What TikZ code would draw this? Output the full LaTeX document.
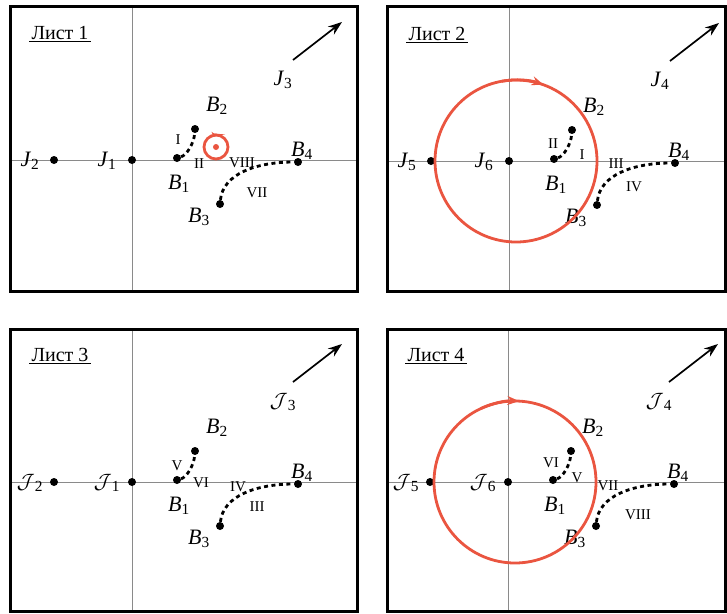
\documentclass[tikz,border=0pt]{standalone}
\usepackage{fontspec}
\setmainfont{Liberation Serif}
\usetikzlibrary{arrows.meta}
\definecolor{LoopRed}{HTML}{EA5540}
\definecolor{AxisGray}{HTML}{8A8A8A}
\tikzset{
  % Panel frame and axes
  FR/.style={draw,line width=3pt},
  AX/.style={draw=AxisGray,line width=0.8pt},
  % Points
  PT/.style={circle,fill,inner sep=0pt,minimum size=8pt},
  % Label styles
  LB/.style={inner sep=1pt,font=\fontsize{22}{22}\selectfont},
  RN/.style={inner sep=1pt,font=\fontsize{15}{15}\selectfont\upshape},
  TT/.style={inner sep=2pt,font=\fontsize{20}{20}\selectfont\upshape},
  % Lines
  dotc/.style={line width=2.8pt,dash pattern=on 4pt off 3.5pt},
  arr/.style={-{Stealth[length=14pt,width=10pt]},line width=1.7pt},
  loop/.style={draw=LoopRed,line width=2.8pt}
}
\newcommand{\lb}[2]{\textit{#1}\textsubscript{#2}}
\newcommand{\lc}[1]{$\mathcal{J}$\textsubscript{#1}}

\begin{document}
\begin{tikzpicture}[x=1pt,y=-1pt]
  \useasboundingbox (0,0) rectangle (727,613);
  % common part of the four sheets
  \foreach \p/\fx/\fy/\fr/\fb/\ox/\oy/\jl/\jm/\jr in
    {1/10/6/357/291/132/160/{\lb{J}{2}}/{\lb{J}{1}}/{\lb{J}{3}},
     2/387/6/725/291/509/161/{\lb{J}{5}}/{\lb{J}{6}}/{\lb{J}{4}},
     3/10/329/357/611/132/482/{\lc{2}}/{\lc{1}}/{\lc{3}},
     4/387/329/725/611/508/482/{\lc{5}}/{\lc{6}}/{\lc{4}}}{
    \draw[AX] (\ox,\fy) -- (\ox,\fb);
    \draw[AX] (\fx,\oy) -- (\fr,\oy);
    \draw[FR] (\fx,\fy) rectangle (\fr,\fb);
    \begin{scope}[shift={(\ox,\oy)}]
      \node[TT] (lst\p) at (-72,-127) {Лист \p};
      \draw[line width=0.9pt] (lst\p.south west) -- (lst\p.south east);
      \node[PT] (jl\p) at (-78,0) {};
      \node[PT] (jm\p) at (0,0) {};
      \node[PT] (b1\p) at (45,-2) {};
      \node[PT] (b2\p) at (63,-31) {};
      \node[PT] (b3\p) at (88,44) {};
      \node[PT] (b4\p) at (166,2) {};
      \node[LB] (tjl\p) at (-102,1) {\jl};
      \node[LB] (tjm\p) at (-25,1) {\jm};
      \node[LB] (tjr\p) at (151,-80) {\jr};
      \node[LB] (tb1\p) at (47,24) {\lb{B}{1}};
      \node[LB] (tb2\p) at (85,-54) {\lb{B}{2}};
      \node[LB] (tb3\p) at (67,57) {\lb{B}{3}};
      \node[LB] (tb4\p) at (170,-9) {\lb{B}{4}};
      \coordinate (as\p) at (161,-100);
      \coordinate (ae\p) at (210,-138);
      \draw[arr] (as\p) -- (ae\p);
      \draw[dotc] (b1\p) .. controls +(10,-3) and +(-1,14) .. (b2\p);
      \draw[dotc] (b3\p) .. controls +(3,-30) and +(-42,0) .. (b4\p);
    \end{scope}
  }
  % Sheet 1
  \begin{scope}[shift={(132,160)}]
    \node[RN] (r1a) at (46,-20) {I};
    \node[RN] (r1b) at (67,4) {II};
    \node[RN] (r1c) at (110,3) {VIII};
    \node[RN] (r1d) at (125,33) {VII};
    \draw[loop] (84,-13) circle (12pt);
    \fill[LoopRed] (84,-13) circle (3pt);
    \draw[loop,-{Stealth[length=5pt,width=6pt]}] (84,-13) ++(100:12pt) arc[start angle=100,end angle=88,radius=12pt];
  \end{scope}
  % Sheet 2
  \begin{scope}[shift={(509,161)}]
    \node[RN] (r2a) at (44,-17) {II};
    \node[RN] (r2b) at (73,-6) {I};
    \node[RN] (r2c) at (107,3) {III};
    \node[RN] (r2d) at (125,26) {IV};
    \draw[loop] (7,0) circle (81pt);
    \draw[loop,-{Stealth[length=12pt,width=9pt]}] (7,0) ++(100:81pt) arc[start angle=100,end angle=70,radius=81pt];
  \end{scope}
  % Sheet 3
  \begin{scope}[shift={(132,482)}]
    \node[RN] (r3a) at (45,-16) {V};
    \node[RN] (r3b) at (69,1) {VI};
    \node[RN] (r3c) at (106,5) {IV};
    \node[RN] (r3d) at (125,25) {III};
  \end{scope}
  % Sheet 4
  \begin{scope}[shift={(508,482)}]
    \node[RN] (r4a) at (43,-19) {VI};
    \node[RN] (r4b) at (69,-4) {V};
    \node[RN] (r4c) at (100,4) {VII};
    \node[RN] (r4d) at (130,33) {VIII};
    \draw[loop] (7,0) circle (81pt);
    \draw[loop,-{Stealth[length=12pt,width=9pt]}] (7,0) ++(115:81pt) arc[start angle=115,end angle=87,radius=81pt];
  \end{scope}
\end{tikzpicture}
\end{document}
